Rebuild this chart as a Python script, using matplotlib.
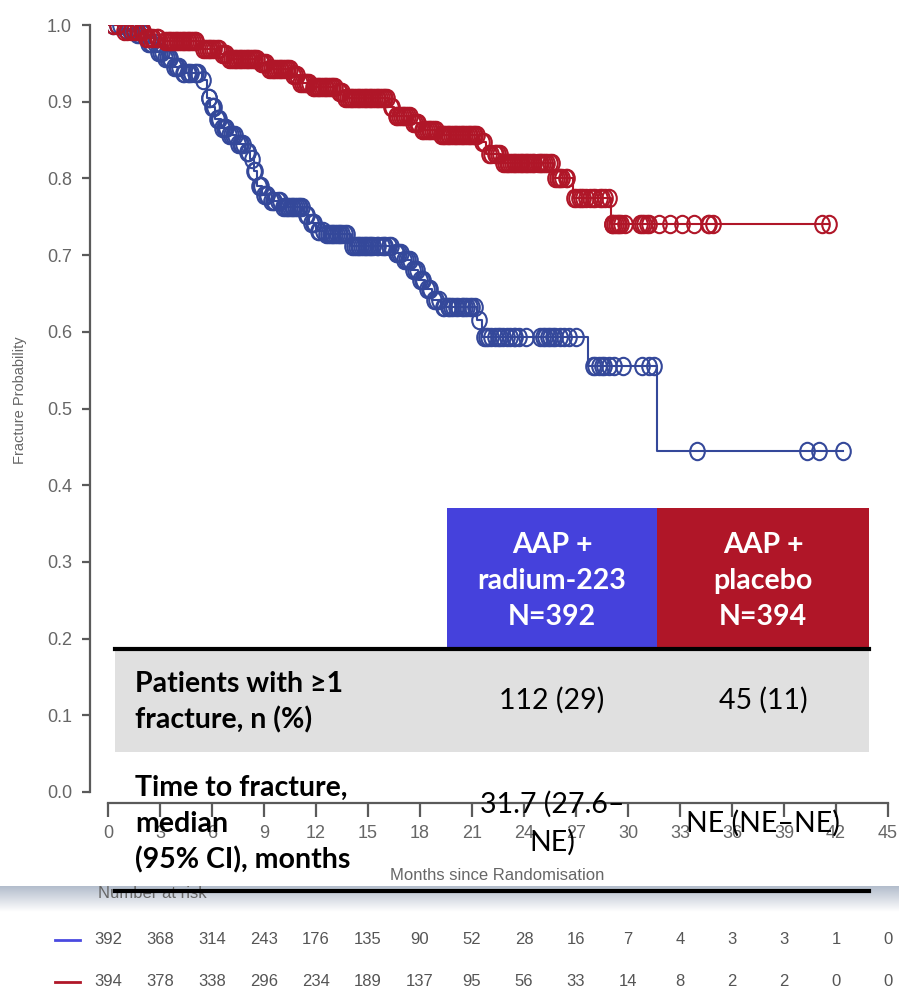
import numpy as np
import matplotlib
matplotlib.use("Agg")
import matplotlib.pyplot as plt
from matplotlib.patches import Rectangle
from matplotlib.lines import Line2D
from matplotlib.path import Path
from matplotlib.transforms import Affine2D, blended_transform_factory

W, H = 899, 989

# AAP + radium-223: month of each drop and the estimate after it
ra_step_t = [0.8, 1.6, 2.2, 2.8, 3.2, 3.7, 4.3, 5.4, 5.7, 5.9, 6.2, 6.5, 6.9, 7.4,
             7.9, 8.2, 8.4, 8.6, 8.9, 9.3, 10.0, 11.3, 11.6, 12.0, 12.5, 14.0, 16.5,
             17.0, 17.5, 17.9, 18.3, 18.7, 19.2, 21.3, 21.6, 27.7, 31.7]
ra_step_s = [0.995, 0.988, 0.977, 0.965, 0.957, 0.945, 0.938, 0.928, 0.905, 0.893,
             0.878, 0.866, 0.857, 0.845, 0.835, 0.825, 0.810, 0.790, 0.779, 0.770,
             0.763, 0.752, 0.742, 0.732, 0.728, 0.712, 0.703, 0.694, 0.680, 0.668,
             0.656, 0.642, 0.632, 0.615, 0.593, 0.556, 0.445]
ra_last = 42.4
ra_censor = [0.3, 0.5, 0.7, 1.0, 1.2, 1.4, 1.5, 1.7, 1.8, 2.0, 2.1, 2.3, 2.4, 2.5,
             2.7, 2.9, 3.0, 3.1, 3.3, 3.4, 3.5, 3.6, 3.8, 3.9, 4.0, 4.1, 4.3, 4.4,
             4.6, 4.7, 4.8, 5.0, 5.1, 5.2, 5.5, 5.8, 5.85, 6.0, 6.05, 6.1, 6.3, 6.35,
             6.4, 6.6, 6.7, 6.75, 6.8, 7.0, 7.1, 7.2, 7.3, 7.5, 7.6, 7.7, 7.8, 8.0,
             8.05, 8.1, 8.3, 8.45, 8.5, 8.7, 8.75, 8.8, 9.0, 9.1, 9.2, 9.4, 9.5, 9.6,
             9.8, 9.9, 10.1, 10.2, 10.3, 10.4, 10.5, 10.6, 10.7, 10.8, 10.9, 11.0,
             11.1, 11.2, 11.4, 11.5, 11.7, 11.8, 11.9, 12.1, 12.2, 12.4, 12.6, 12.7,
             12.8, 12.9, 13.0, 13.1, 13.2, 13.3, 13.4, 13.5, 13.7, 13.8, 14.1, 14.2,
             14.3, 14.4, 14.5, 14.6, 14.7, 14.8, 14.9, 15.0, 15.1, 15.2, 15.3, 15.5,
             15.6, 15.8, 15.9, 16.0, 16.2, 16.3, 16.6, 16.7, 16.8, 16.9, 17.1, 17.2,
             17.3, 17.4, 17.6, 17.7, 17.8, 18.0, 18.1, 18.2, 18.4, 18.5, 18.6, 18.8,
             18.9, 19.1, 19.3, 19.4, 19.6, 19.7, 19.8, 19.9, 20.1, 20.2, 20.4, 20.5,
             20.6, 20.7, 20.9, 21.0, 21.2, 21.4, 21.7, 21.8, 21.9, 22.1, 22.3, 22.5,
             22.6, 22.8, 23.0, 23.2, 23.4, 23.5, 23.7, 24.1, 24.9, 25.1, 25.2, 25.4,
             25.5, 25.7, 25.8, 26.1, 26.3, 26.6, 27.0, 28.0, 28.1, 28.3, 28.5, 28.6,
             28.9, 29.2, 29.7, 30.8, 31.2, 31.5, 34.0, 40.3, 41.0, 42.4]

# AAP + placebo
pl_step_t = [0.6, 2.1, 3.2, 5.3, 6.5, 6.9, 8.7, 9.2, 10.6, 11.0, 11.7, 13.2, 13.6,
             16.2, 16.5, 17.5, 18.0, 19.1, 21.4, 21.8, 22.7, 25.7, 26.8, 29.0]
pl_step_s = [0.992, 0.983, 0.979, 0.969, 0.962, 0.956, 0.950, 0.942, 0.935, 0.925,
             0.919, 0.912, 0.905, 0.893, 0.882, 0.872, 0.863, 0.857, 0.848, 0.832,
             0.820, 0.800, 0.775, 0.741]
pl_last = 41.6
pl_censor = [0.3, 0.5, 0.9, 1.1, 1.3, 1.5, 1.7, 1.9, 2.0, 2.2, 2.3, 2.5, 2.6, 2.8,
             2.9, 3.3, 3.4, 3.5, 3.6, 3.7, 3.8, 3.9, 4.0, 4.1, 4.2, 4.3, 4.4, 4.5,
             4.6, 4.7, 4.8, 4.9, 5.0, 5.1, 5.5, 5.6, 5.7, 5.8, 5.9, 6.0, 6.1, 6.3,
             6.4, 6.6, 6.7, 6.8, 7.0, 7.1, 7.2, 7.3, 7.4, 7.5, 7.6, 7.7, 7.8, 7.9,
             8.0, 8.1, 8.2, 8.3, 8.4, 8.5, 8.6, 8.8, 8.9, 9.0, 9.1, 9.3, 9.4, 9.5,
             9.6, 9.7, 9.8, 9.9, 10.0, 10.1, 10.2, 10.3, 10.4, 10.5, 10.7, 10.8,
             10.9, 11.1, 11.2, 11.3, 11.4, 11.5, 11.6, 11.8, 11.9, 12.0, 12.1, 12.2,
             12.3, 12.4, 12.5, 12.6, 12.7, 12.8, 12.9, 13.0, 13.1, 13.3, 13.4, 13.5,
             13.7, 13.8, 13.9, 14.0, 14.1, 14.2, 14.3, 14.4, 14.5, 14.6, 14.7, 14.8,
             14.9, 15.0, 15.1, 15.2, 15.3, 15.4, 15.5, 15.6, 15.7, 15.8, 15.9, 16.0,
             16.1, 16.3, 16.4, 16.6, 16.7, 16.8, 16.9, 17.0, 17.1, 17.2, 17.3, 17.4,
             17.6, 17.7, 17.8, 17.9, 18.1, 18.2, 18.3, 18.4, 18.5, 18.6, 18.7, 18.8,
             18.9, 19.2, 19.3, 19.4, 19.5, 19.6, 19.7, 19.8, 19.9, 20.0, 20.1, 20.2,
             20.3, 20.4, 20.5, 20.6, 20.7, 20.8, 20.9, 21.0, 21.1, 21.2, 21.3, 21.6,
             21.7, 22.0, 22.1, 22.3, 22.4, 22.5, 22.6, 22.8, 22.9, 23.0, 23.1, 23.2,
             23.3, 23.4, 23.5, 23.6, 23.7, 23.8, 23.9, 24.0, 24.1, 24.2, 24.3, 24.4,
             24.5, 24.6, 24.8, 24.9, 25.0, 25.1, 25.2, 25.3, 25.5, 25.6, 25.8, 25.9,
             26.0, 26.1, 26.2, 26.4, 26.5, 26.9, 27.0, 27.2, 27.3, 27.4, 27.6, 27.8,
             28.0, 28.1, 28.4, 28.5, 28.7, 28.9, 29.05, 29.1, 29.2, 29.3, 29.4, 29.5,
             29.6, 29.8, 30.7, 30.8, 30.9, 31.1, 31.2, 31.8, 32.4, 33.1, 33.8, 34.6,
             34.7, 34.9, 41.2, 41.6]

month_ticks = list(range(0, 46, 3))
prob_ticks = [0.0, 0.1, 0.2, 0.3, 0.4, 0.5, 0.6, 0.7, 0.8, 0.9, 1.0]
risk_ra = [392, 368, 314, 243, 176, 135, 90, 52, 28, 16, 7, 4, 3, 3, 1, 0]
risk_pl = [394, 378, 338, 296, 234, 189, 137, 95, 56, 33, 14, 8, 2, 2, 0, 0]

arm_headers = [["AAP +", "radium-223", "N=392"], ["AAP +", "placebo", "N=394"]]
row_labels = [["Patients with ≥1", "fracture, n (%)"],
              ["Time to fracture,", "median", "(95% CI), months"]]
fracture_n = ["112 (29)", "45 (11)"]
median_ttf = [["31.7 (27.6–", "NE)"], ["NE (NE–NE)"]]

BLUE = "#34489a"
RED = "#b01628"
HEAD_BLUE = "#4541dc"
GREY = "#666666"
TFONT = "Lato"
TSIZE = 20.5


def fx(px):
    return px / W


def fy(py):
    return 1 - py / H


def step_xy(ts, ss, last):
    x = [0.0] + list(ts) + [last]
    y = [1.0] + list(ss) + [ss[-1]]
    return x, y


def value_at(ts, ss, t):
    vals = np.r_[1.0, ss]
    return vals[np.searchsorted(ts, t, side="right")]


fig = plt.figure(figsize=(W / 100, H / 100), dpi=100)
ax = fig.add_axes([fx(108), fy(792), (888 - 108) / W, (792 - 25) / H])

# censor ticks are open ellipses, a little taller than wide
ellipse = Path.unit_circle().transformed(Affine2D().scale(0.84, 1.0))

for ts, ss, last, cens, col in [(ra_step_t, ra_step_s, ra_last, ra_censor, BLUE),
                                (pl_step_t, pl_step_s, pl_last, pl_censor, RED)]:
    x, y = step_xy(ts, ss, last)
    ax.step(x, y, where="post", color=col, lw=1.5, zorder=3)
    cy = value_at(np.array(ts), np.array(ss), np.array(cens))
    ax.plot(cens, cy, ls="none", marker=ellipse, ms=12.5, mfc="none",
            mec=col, mew=1.5, zorder=4)

ax.set_xlim(0, 45)
ax.set_ylim(0, 1)
ax.set_xticks(month_ticks)
ax.set_yticks(prob_ticks)
ax.set_yticklabels([f"{v:.1f}" for v in prob_ticks])
for side in ["top", "right"]:
    ax.spines[side].set_visible(False)
ax.spines["left"].set_position(("outward", 13))
ax.spines["bottom"].set_position(("outward", 8))
for side in ["left", "bottom"]:
    ax.spines[side].set_color("#5a5a5a")
    ax.spines[side].set_linewidth(1.6)
ax.tick_params(axis="both", colors="#5a5a5a", width=1.6, labelcolor=GREY,
               labelsize=13)
ax.tick_params(axis="y", length=6, pad=7)
ax.tick_params(axis="x", length=10, pad=6)
for lab in ax.get_xticklabels() + ax.get_yticklabels():
    lab.set_family("Liberation Sans")

fig.text(fx(20), fy(400), "Fracture Probability", rotation=90, ha="center",
         va="center", fontsize=10.5, color=GREY, family="Liberation Sans")
fig.text(fx(497), fy(876), "Months since Randomisation", ha="center", va="center",
         fontsize=12, color=GREY, family="Liberation Sans")

# summary table drawn over the plot
for i, (x0, x1, col) in enumerate([(447, 657, HEAD_BLUE), (657, 869, RED)]):
    fig.add_artist(Rectangle((fx(x0), fy(648)), fx(x1 - x0), (648 - 508) / H,
                             transform=fig.transFigure, color=col, lw=0, zorder=2))
    cx = (x0 + x1) / 2
    for line, py in zip(arm_headers[i], [545, 581, 617]):
        fig.text(fx(cx), fy(py), line, ha="center", va="center", color="white",
                 fontsize=TSIZE, fontweight="bold", family=TFONT, zorder=5)
    fig.text(fx(cx), fy(700), fracture_n[i], ha="center", va="center",
             color="black", fontsize=TSIZE, family=TFONT, zorder=5)

fig.add_artist(Rectangle((fx(115), fy(752)), fx(869 - 115), (752 - 650) / H,
                         transform=fig.transFigure, color="#e0e0e0", lw=0, zorder=2))
fig.add_artist(Line2D([fx(115), fx(869)], [fy(649), fy(649)], color="black",
                      lw=3, transform=fig.transFigure, zorder=5))

for line, py in zip(row_labels[0], [684, 720]):
    fig.text(fx(135), fy(py), line, ha="left", va="center", fontsize=TSIZE,
             fontweight="bold", family=TFONT, zorder=5)
for line, py in zip(row_labels[1], [788, 824, 860]):
    fig.text(fx(135), fy(py), line, ha="left", va="center", fontsize=TSIZE,
             fontweight="bold", family=TFONT, zorder=5)
for line, py in zip(median_ttf[0], [804, 842]):
    fig.text(fx(552), fy(py), line, ha="center", va="center", fontsize=TSIZE,
             family=TFONT, zorder=5)
fig.text(fx(763), fy(823), median_ttf[1][0], ha="center", va="center",
         fontsize=TSIZE, family=TFONT, zorder=5)

# soft grey band under the table
band = fig.add_axes([0, fy(912), 1, (912 - 886) / H], zorder=1)
grad = np.linspace(0, 1, 64)[:, None]
top = np.array([0.70, 0.74, 0.80])
rgb = top[None, None, :] * (1 - grad[:, :, None]) + grad[:, :, None]
band.imshow(rgb, aspect="auto", extent=[0, 1, 0, 1])
band.set_axis_off()

fig.text(fx(98), fy(894), "Number at risk", ha="left", va="center", fontsize=12,
         color=GREY, family="Liberation Sans", zorder=6)
fig.add_artist(Line2D([fx(115), fx(869)], [fy(891), fy(891)], color="black",
                      lw=3, transform=fig.transFigure, zorder=7))

# number at risk rows
trans = blended_transform_factory(ax.transData, fig.transFigure)
for counts, py, col in [(risk_ra, 940, "#4a4ae0"), (risk_pl, 982, RED)]:
    fig.add_artist(Line2D([fx(55), fx(80)], [fy(py), fy(py)], color=col, lw=2,
                          transform=fig.transFigure))
    for m, n in zip(month_ticks, counts):
        fig.text(m, fy(py), str(n), transform=trans, ha="center", va="center",
                 fontsize=12, color="#555555", family="Liberation Sans")

fig.savefig("out.png", dpi=100)
